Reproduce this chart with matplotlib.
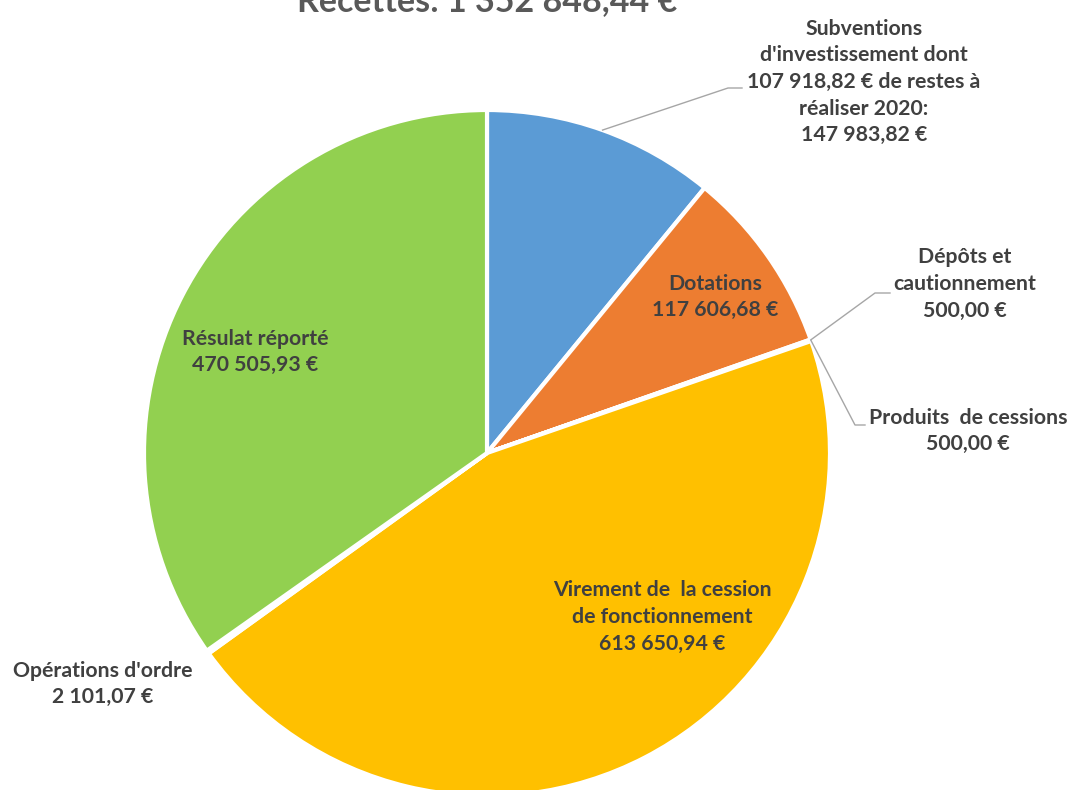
import numpy as np
import matplotlib.pyplot as plt

labels = [
    "Subventions\nd'investissement dont\n107 918,82 € de restes à\nréaliser 2020:\n147 983,82 €",
    "Dotations\n117 606,68 €",
    "Dépôts et\ncautionnement\n500,00 €",
    "Produits  de cessions\n500,00 €",
    "Virement de  la cession\nde fonctionnement\n613 650,94 €",
    "Opérations d'ordre\n2 101,07 €",
    "Résulat réporté\n470 505,93 €",
]
values = [147983.82, 117606.68, 500.00, 500.00, 613650.94, 2101.07, 470505.93]
colors = ["#5B9BD5", "#ED7D31", "#A5A5A5", "#4472C4", "#FFC000", "#264478", "#92D050"]
title = "Recettes: 1 352 848,44 €"

W, H = 1075, 790
TXT = "#404040"
plt.rcParams["font.family"] = ["Lato", "DejaVu Sans"]

fig = plt.figure(figsize=(W / 100, H / 100), dpi=100)
ax = fig.add_axes([0, 0, 1, 1])

cx, cy, r = 487, H - 453, 343
wedges, _ = ax.pie(values, colors=colors, startangle=90, counterclock=False,
                   radius=r, center=(cx, cy), frame=True,
                   wedgeprops=dict(edgecolor="white", linewidth=3))
ax.set_xlim(0, W)
ax.set_ylim(0, H)
ax.set_aspect("equal")
ax.axis("off")

fs = 15.3
# label positions (centre of text block, image y from top)
pos = [(864, 82), (715, 297), (965, 284), (968, 431), (662, 617), (255, 352), (103, 684)]
pos = [pos[0], pos[1], pos[2], pos[3], pos[4], pos[6], pos[5]]
for lab, (x, y) in zip(labels, pos):
    ax.text(x, H - y, lab, ha="center", va="center", fontsize=fs,
            fontweight="bold", color=TXT, linespacing=1.42)


def edge(w, frac=0.5):
    a = np.deg2rad(w.theta1 + (w.theta2 - w.theta1) * frac)
    return cx + r * np.cos(a), cy + r * np.sin(a)


# leader lines
leaders = {0: [(728, 88), (742, 88)], 2: [(875, 293), (890, 293)], 3: [(855, 425), (865, 425)]}
for i, pts in leaders.items():
    x0, y0 = edge(wedges[i])
    xs = [x0] + [p[0] for p in pts]
    ys = [y0] + [H - p[1] for p in pts]
    ax.plot(xs, ys, color="#A6A6A6", lw=1)

fig.text(487 / W, 1 - 11 / H, title, ha="center", va="baseline",
         fontsize=24.5, fontweight="bold", color="#595959")

fig.savefig("out.png", dpi=100)
